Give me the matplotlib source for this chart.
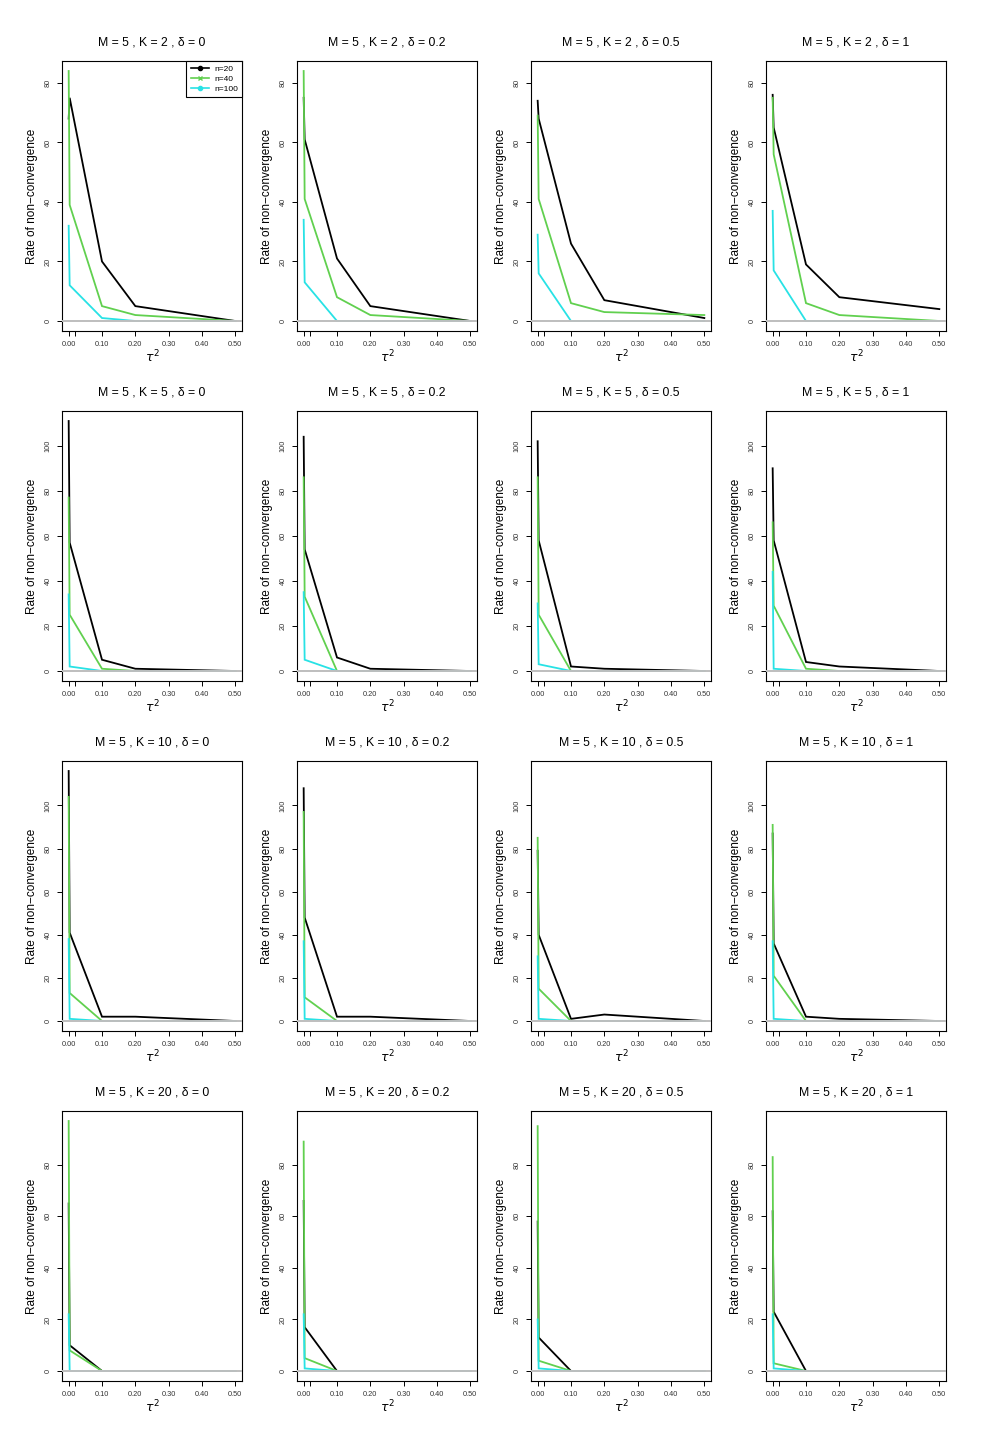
"""
Rate of non-convergence vs. tau^2, M = 5, grid over K (rows) and delta (columns).
"""
import numpy as np
import matplotlib
matplotlib.use("Agg")
import matplotlib.pyplot as plt
from matplotlib.lines import Line2D

plt.rcParams["font.family"] = ["Liberation Sans", "DejaVu Sans"]
plt.rcParams["mathtext.fontset"] = "dejavusans"

# tau^2 grid (second point sits just right of 0)
tau2 = [0.0, 0.003, 0.1, 0.2, 0.5]
M_value = 5
K_values = [2, 5, 10, 20]
delta_labels = ["0", "0.2", "0.5", "1"]

# one list per panel, row-major (K rows, delta columns)
rate_n20 = [
    [68, 75, 20, 5, 0], [75, 61, 21, 5, 0], [74, 68, 26, 7, 1], [76, 65, 19, 8, 4],
    [111, 57, 5, 1, 0], [104, 54, 6, 1, 0], [102, 58, 2, 1, 0], [90, 58, 4, 2, 0],
    [116, 41, 2, 2, 0], [108, 48, 2, 2, 0], [79, 40, 1, 3, 0], [87, 36, 2, 1, 0],
    [65, 10, 0, 0, 0], [66, 17, 0, 0, 0], [58, 13, 0, 0, 0], [62, 23, 0, 0, 0],
]
rate_n40 = [
    [84, 39, 5, 2, 0], [84, 41, 8, 2, 0], [69, 41, 6, 3, 2], [75, 56, 6, 2, 0],
    [77, 25, 1, 0, 0], [86, 33, 0, 0, 0], [86, 25, 0, 0, 0], [66, 29, 1, 0, 0],
    [104, 13, 0, 0, 0], [97, 11, 0, 0, 0], [85, 15, 0, 0, 0], [91, 21, 0, 0, 0],
    [97, 8, 0, 0, 0], [89, 5, 0, 0, 0], [95, 4, 0, 0, 0], [83, 3, 0, 0, 0],
]
rate_n100 = [
    [32, 12, 1, 0, 0], [34, 13, 0, 0, 0], [29, 16, 0, 0, 0], [37, 17, 0, 0, 0],
    [34, 2, 0, 0, 0], [35, 5, 0, 0, 0], [30, 3, 0, 0, 0], [44, 1, 0, 0, 0],
    [38, 1, 0, 0, 0], [37, 1, 0, 0, 0], [30, 1, 0, 0, 0], [37, 1, 0, 0, 0],
    [22, 0, 0, 0, 0], [22, 1, 0, 0, 0], [20, 1, 0, 0, 0], [22, 1, 0, 0, 0],
]

y_ticks_by_row = [
    [0, 20, 40, 60, 80],
    [0, 20, 40, 60, 80, 100],
    [0, 20, 40, 60, 80, 100],
    [0, 20, 40, 60, 80],
]
x_ticks = [0.0, 0.02, 0.1, 0.2, 0.3, 0.4, 0.5]
x_ticklabels = ["0.00", "", "0.10", "0.20", "0.30", "0.40", "0.50"]

series = [
    ("n=20", rate_n20, "black", "o"),
    ("n=40", rate_n40, "#61D04F", "x"),
    ("n=100", rate_n100, "#28E2E5", "o"),
]

W, H = 990, 1452
fig = plt.figure(figsize=(W / 100, H / 100), dpi=100)

col_left = [62, 297, 531, 766]
row_top = [61, 411, 761, 1111]
pw, ph = 180, 270

for r, K in enumerate(K_values):
    idx = range(r * 4, r * 4 + 4)
    row_max = max(max(s[1][i]) for s in series for i in idx)
    pad = 0.04 * row_max
    for c, dl in enumerate(delta_labels):
        i = r * 4 + c
        ax = fig.add_axes([col_left[c] / W, 1 - (row_top[r] + ph) / H, pw / W, ph / H])
        for label, data, color, mk in series:
            ax.plot(tau2, data[i], color=color, lw=1.3, solid_joinstyle="miter")
        ax.axhline(0, color="#BEBEBE", lw=1.4, zorder=5)

        ax.set_xlim(-0.02, 0.52)
        ax.set_ylim(-pad, row_max + pad)
        ax.set_xticks(x_ticks)
        ax.set_xticklabels(x_ticklabels, fontsize=5.3)
        ax.set_yticks(y_ticks_by_row[r])
        ax.set_yticklabels([str(t) for t in y_ticks_by_row[r]], fontsize=5.3,
                           rotation=90, va="center")
        ax.tick_params(axis="both", direction="out", length=3.5, width=0.7,
                       pad=4, colors="black", labelcolor="#333333")
        for sp in ax.spines.values():
            sp.set_linewidth(0.8)
            sp.set_color("black")

        ax.set_title(f"M = {M_value} , K = {K} , \u03b4 = {dl}", fontsize=8.8, pad=11)
        ax.set_ylabel("Rate of non\u2212convergence", fontsize=8.5, labelpad=5)
        ax.set_xlabel(r"$\tau^2$", fontsize=9, labelpad=0)

        if i == 0:
            handles = [Line2D([0], [0], color=col, lw=1.2, marker=mk, markersize=3,
                              markeredgewidth=1.0)
                       for _, _, col, mk in series]
            leg = ax.legend(handles, [s[0] for s in series], loc="upper right",
                            fontsize=6, borderaxespad=0, fancybox=False,
                            framealpha=1, edgecolor="black", handlelength=2.2,
                            numpoints=1, borderpad=0.5, labelspacing=0.25,
                            handletextpad=0.6)
            leg.get_frame().set_linewidth(0.8)

fig.savefig("out.png", dpi=100)
